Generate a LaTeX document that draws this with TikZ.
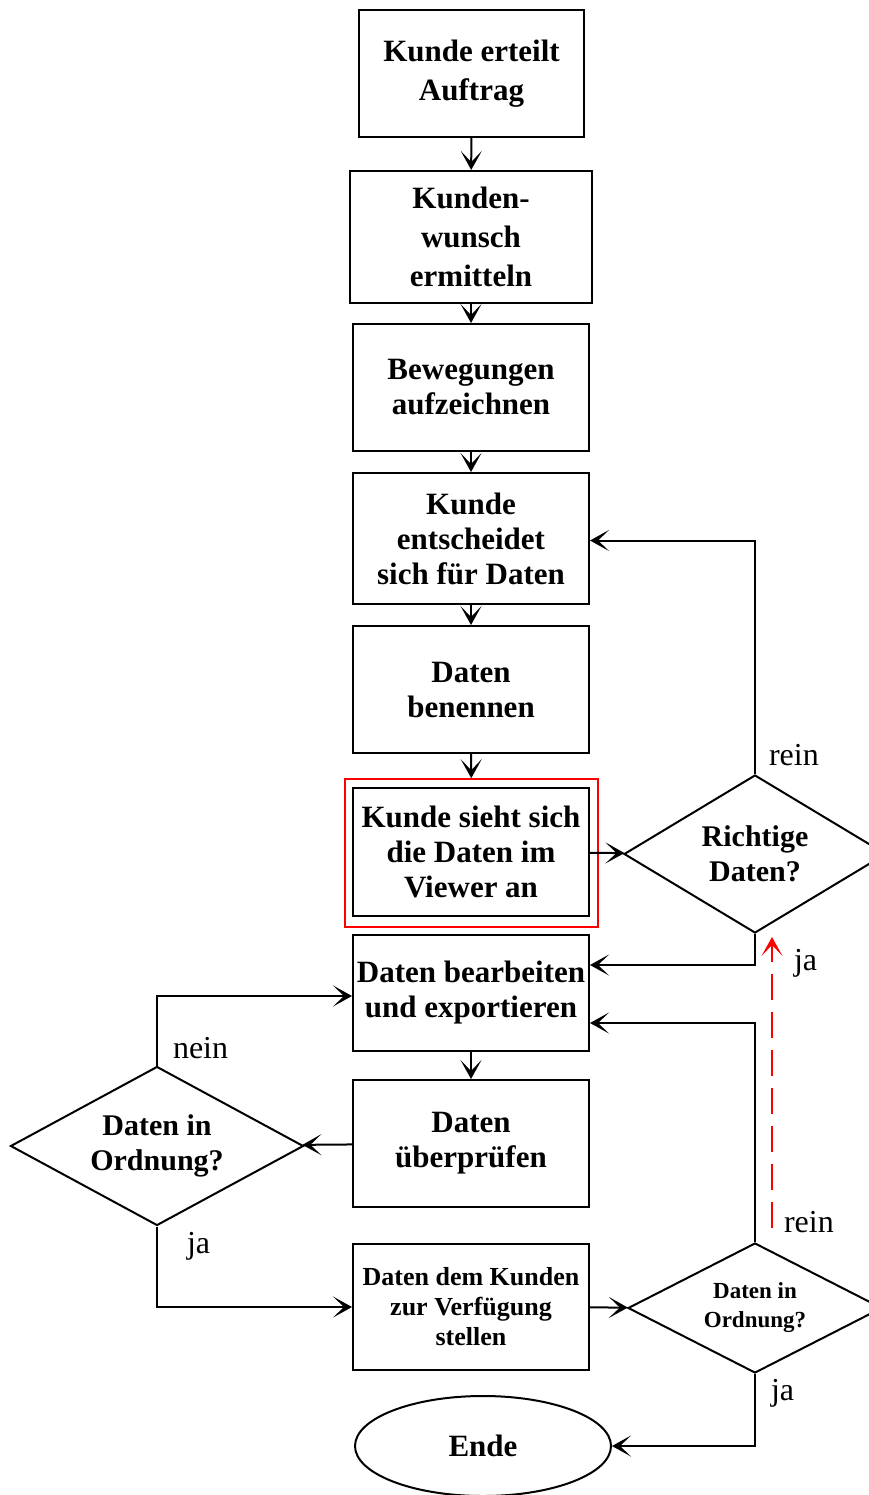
\documentclass[tikz,border=0pt]{standalone}
\usepackage{fontspec}
\setmainfont{Liberation Serif}
\usetikzlibrary{shapes.geometric,arrows.meta,calc}
\begin{document}
\begin{tikzpicture}[x=1pt,y=-1pt,
  line width=2pt,
  box/.style={draw,rectangle,align=center,inner sep=0pt,font=\bfseries\fontsize{31}{35}\selectfont},
  tallbox/.style={box,font=\bfseries\fontsize{31}{39}\selectfont},
  smallbox/.style={box,font=\bfseries\fontsize{26}{30}\selectfont},
  dia/.style={draw,diamond,aspect=1.57,inner sep=0pt,align=center,font=\bfseries\fontsize{30}{35}\selectfont},
  lab/.style={font=\fontsize{32}{34}\selectfont,inner sep=0pt},
  arr/.style={-{Stealth[length=19pt,width=21pt,inset=11pt]}}
]
\useasboundingbox (0,0) rectangle (869,1495);
\node[tallbox,minimum width=225pt,minimum height=127pt] (b1) at (471.5,73.5) {Kunde erteilt\\Auftrag};
\node[tallbox,minimum width=242pt,minimum height=132pt] (b2) at (471,237) {Kunden-\\wunsch\\ermitteln};
\node[box,minimum width=236pt,minimum height=127pt] (b3) at (471,387.5) {Bewegungen\\aufzeichnen};
\node[box,minimum width=236pt,minimum height=131pt] (b4) at (471,538.5) {Kunde\\entscheidet\\sich für Daten};
\node[box,minimum width=236pt,minimum height=127pt] (b5) at (471,689.5) {Daten\\benennen};
\node[box,minimum width=236pt,minimum height=128pt] (b6) at (471,852) {Kunde sieht sich\\die Daten im\\Viewer an};
\node[draw=red,line width=1.6pt,rectangle,minimum width=253pt,minimum height=148pt] (red) at (471.5,853) {};
\node[dia,minimum width=262pt,minimum height=158pt] (d1) at (755,854) {Richtige\\Daten?};
\node[box,minimum width=236pt,minimum height=116pt] (b7) at (471,993) {Daten bearbeiten\\und exportieren};
\node[box,minimum width=236pt,minimum height=127pt] (b8) at (471,1143.5) {Daten\\überprüfen};
\node[dia,minimum width=293pt,minimum height=159pt] (d2) at (157,1146) {Daten in\\Ordnung?};
\node[smallbox,minimum width=236pt,minimum height=126pt] (b9) at (471,1307) {Daten dem Kunden\\zur Verfügung\\stellen};
\node[dia,minimum width=254pt,minimum height=130pt,font=\bfseries\fontsize{23}{29}\selectfont] (d3) at (755,1308) {Daten in\\Ordnung?};
\node[draw,ellipse,minimum width=256pt,minimum height=100pt,inner sep=0pt,font=\bfseries\fontsize{31}{35}\selectfont] (end) at (483,1446) {Ende};

\draw[arr] (b1) -- (b2);
\draw[arr] (b2) -- (b3);
\draw[arr] (b3) -- (b4);
\draw[arr] (b4) -- (b5);
\draw[arr] (b5) -- (red);
\draw[arr] (b6) -- (d1);
\draw[arr] (d1.north) |- ([yshift=-2pt]b4.east);
\draw[arr] (d1.south) |- ([yshift=28pt]b7.east);
\draw[arr] (d3.north) |- ([yshift=-30pt]b7.east);
\draw[arr] (b7) -- (b8);
\draw[arr] (b8) -- (d2);
\draw[arr] (d2.north) |- ([yshift=-3pt]b7.west);
\draw[arr] (d2.south) |- (b9.west);
\draw[arr] (b9) -- (d3);
\draw[arr] (d3.south) |- (end.east);

\coordinate (rs) at (772,1228);
\coordinate (re) at (772,937);
\draw[arr,red,dash pattern=on 26pt off 12pt] (rs) -- (re);

\node[lab,anchor=west] (l1) at (768,755) {rein};
\node[lab,anchor=west] (l2) at (793,963) {ja};
\node[lab,anchor=west] (l3) at (783,1222) {rein};
\node[lab,anchor=west] (l4) at (172,1048) {nein};
\node[lab,anchor=west] (l5) at (186,1246) {ja};
\node[lab,anchor=west] (l6) at (770,1393) {ja};
\end{tikzpicture}
\end{document}
